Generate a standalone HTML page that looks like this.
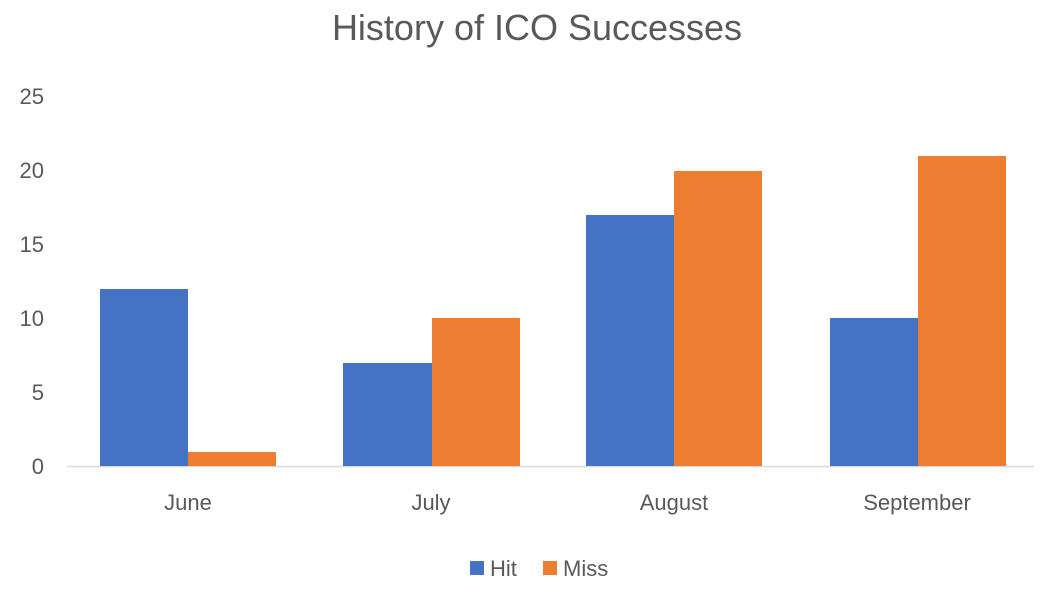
<!DOCTYPE html>
<html><head><meta charset="utf-8"><style>
html,body{margin:0;padding:0;background:#fff;}
svg text{font-family:"Liberation Sans",sans-serif;fill:#595959;}
</style></head><body>
<svg width="1042" height="602" xmlns="http://www.w3.org/2000/svg">
<rect width="1042" height="602" fill="#fff"/>
<text x="537" y="40" font-size="36" text-anchor="middle">History of ICO Successes</text>
<g font-size="22" text-anchor="end">
<text x="44" y="474">0</text>
<text x="44" y="400">5</text>
<text x="44" y="326">10</text>
<text x="44" y="252">15</text>
<text x="44" y="178">20</text>
<text x="44" y="104">25</text>
</g>
<line x1="67" y1="466.5" x2="1034" y2="466.5" stroke="#d9d9d9" stroke-width="1.5"/>
<g fill="#4472C4">
<rect x="100" y="289" width="88" height="177"/>
<rect x="343" y="363" width="89" height="103"/>
<rect x="586" y="215" width="88" height="251"/>
<rect x="830" y="318" width="88" height="148"/>
</g>
<g fill="#ED7D31">
<rect x="188" y="452" width="88" height="14"/>
<rect x="432" y="318" width="88" height="148"/>
<rect x="674" y="171" width="88" height="295"/>
<rect x="918" y="156" width="88" height="310"/>
</g>
<g font-size="22" text-anchor="middle">
<text x="188" y="510">June</text>
<text x="431" y="510">July</text>
<text x="674" y="510">August</text>
<text x="917" y="510">September</text>
</g>
<rect x="470" y="561" width="14" height="14" fill="#4472C4"/>
<text x="490" y="576" font-size="22">Hit</text>
<rect x="543" y="561" width="14" height="14" fill="#ED7D31"/>
<text x="563" y="576" font-size="22">Miss</text>
</svg>
</body></html>
